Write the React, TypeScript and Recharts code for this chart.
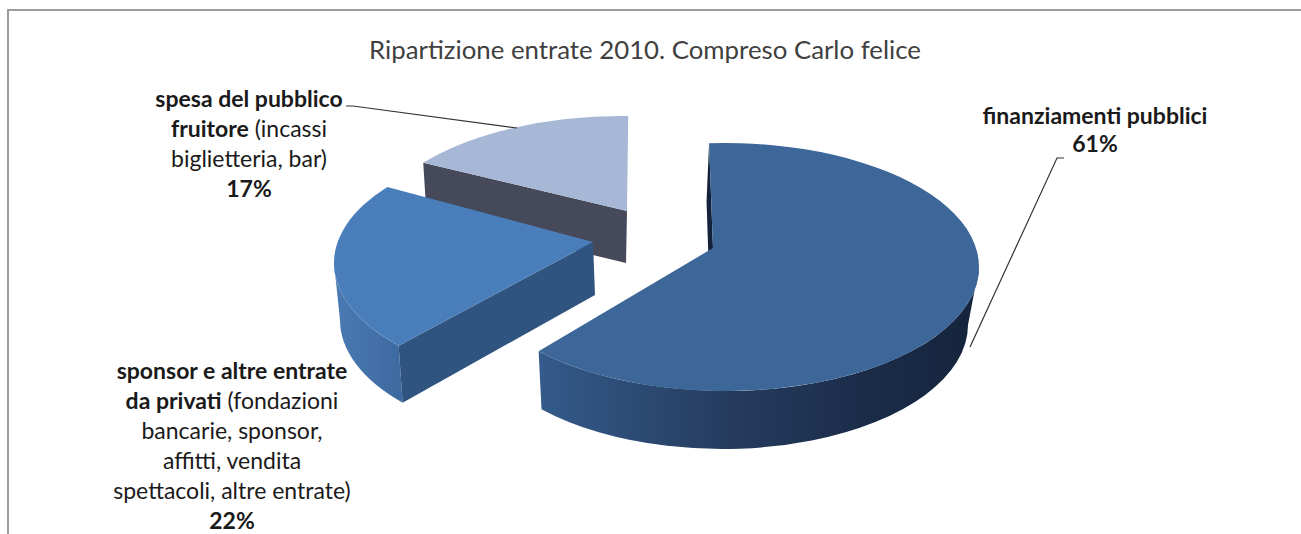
import { Pie, PieChart } from 'recharts';

const CATEGORIES = [
  'spesa del pubblico fruitore (incassi biglietteria, bar)',
  'sponsor e altre entrate da privati (fondazioni bancarie, sponsor, affitti, vendita spettacoli, altre entrate)',
  'finanziamenti pubblici',
];
const VALUES = [17, 22, 61];
const PERCENT_LABELS = ['17%', '22%', '61%'];
const TITLE = 'Ripartizione entrate 2010. Compreso Carlo felice';

const data = CATEGORIES.map((name, i) => ({ name, value: VALUES[i] }));

const WIDTH = 1301;
const HEIGHT = 534;
const PIE_CX = 650;
const PIE_CY = 250;
const RADIUS = 254;
const RADIUS_Y = 124;
const BOTTOM_RADIUS = 246;

// how each exploded slice sits in the fake perspective, same order as CATEGORIES
const VIEWS = [
  {
    move: [-28, -10], apex: [5, -29], adjust: [-1.4, -9.7], depth: 52, shift: -3, apexDrop: [-1, 52],
    top: '#a7b7d6', wall: '#45495a', edge: '#45495a',
  },
  {
    move: [-62, 13], apex: [5, -21], adjust: [-9, -8.6], depth: 57, shift: -2, apexDrop: [2, 53],
    top: '#4a7ebb', wall: 'url(#wallSponsor)', edge: '#2f5480',
  },
  {
    move: [75, 17], apex: [-12, -19], adjust: [-7.6, 3.6], depth: 58, shift: -3, apexDrop: [-3, 58],
    top: '#3e6799', wall: 'url(#wallMain)', edge: '#14233b',
  },
];

const LABEL_LINES = [
  { x: 249, y: 107, rows: [['spesa del pubblico', ''], ['fruitore', ' (incassi'], ['', 'biglietteria, bar)']] },
  {
    x: 232,
    y: 379,
    rows: [
      ['sponsor e altre entrate', ''],
      ['da privati', ' (fondazioni'],
      ['', 'bancarie, sponsor,'],
      ['', 'affitti, vendita'],
      ['', 'spettacoli, altre entrate)'],
    ],
  },
  { x: 1095, y: 124, rows: [['finanziamenti pubblici', '']] },
];
const LEADERS = ['346,106 353,106 517,128', '', '1064,158 1057,158 970,347'];

function SliceShape(props: any) {
  const i = CATEGORIES.indexOf(props.name);
  const view = VIEWS[i];
  const cx = props.cx + view.move[0];
  const cy = props.cy + view.move[1];
  const a1 = props.startAngle + view.adjust[0];
  const a2 = props.endAngle + view.adjust[1];
  const rx = props.outerRadius;
  const ry = (props.outerRadius * RADIUS_Y) / RADIUS;

  const rim = (deg: number) => {
    const r = (deg * Math.PI) / 180;
    return `${cx + rx * Math.cos(r)} ${cy - ry * Math.sin(r)}`;
  };
  const low = (deg: number) => {
    const r = (deg * Math.PI) / 180;
    return `${cx + view.shift + BOTTOM_RADIUS * Math.cos(r)} ${cy + view.depth - ry * Math.sin(r)}`;
  };
  const apexX = cx + view.apex[0];
  const apexY = cy + view.apex[1];
  const large = a2 - a1 > 180 ? 1 : 0;

  const wallFrom = Math.max(a1, 180);
  const wallTo = Math.min(a2, 360);

  return (
    <g>
      <defs>
        <linearGradient id="wallMain" x1="0" y1="0" x2="1" y2="0">
          <stop offset="0" stopColor="#345b8b" />
          <stop offset="0.38" stopColor="#273f63" />
          <stop offset="0.72" stopColor="#1b2d4a" />
          <stop offset="1" stopColor="#15243c" />
        </linearGradient>
        <linearGradient id="wallSponsor" x1="0" y1="0" x2="1" y2="0">
          <stop offset="0" stopColor="#4a7ab3" />
          <stop offset="1" stopColor="#3d699f" />
        </linearGradient>
      </defs>
      {wallTo > wallFrom && (
        <path
          d={`M${rim(wallFrom)} A${rx} ${ry} 0 0 0 ${rim(wallTo)} L${low(wallTo)} A${BOTTOM_RADIUS} ${ry} 0 0 1 ${low(wallFrom)} Z`}
          fill={view.wall}
        />
      )}
      <path
        d={`M${rim(a2)} L${apexX} ${apexY} L${apexX + view.apexDrop[0]} ${apexY + view.apexDrop[1]} L${low(a2)} Z`}
        fill={view.edge}
      />
      <path d={`M${apexX} ${apexY} L${rim(a1)} A${rx} ${ry} 0 ${large} 0 ${rim(a2)} Z`} fill={view.top} />
    </g>
  );
}

function SliceLabel(props: any) {
  const i = CATEGORIES.indexOf(props.name);
  const block = LABEL_LINES[i];
  const style = { fontFamily: 'Lato, sans-serif', fontSize: 23 };
  return (
    <g>
      {LEADERS[i] && <polyline points={LEADERS[i]} fill="none" stroke="#333" strokeWidth={1.2} />}
      <text x={block.x} y={block.y} textAnchor="middle" fill="#1a1a1a" style={style}>
        {block.rows.map((row, r) => (
          <tspan key={r} x={block.x} y={block.y + r * 30}>
            <tspan fontWeight={700}>{row[0]}</tspan>
            <tspan fontWeight={400}>{row[1]}</tspan>
          </tspan>
        ))}
        <tspan x={block.x} y={block.y + block.rows.length * (i === 2 ? 28 : 30)} fontWeight={700}>
          {PERCENT_LABELS[i]}
        </tspan>
      </text>
    </g>
  );
}

export default function App() {
  return (
    <div style={{ position: 'absolute', left: 0, top: 0, width: WIDTH, height: HEIGHT, background: '#fff', overflow: 'hidden' }}>
      <div
        style={{
          position: 'absolute',
          left: 7,
          top: 9,
          right: 0,
          bottom: 0,
          borderTop: '2px solid #9c9c9c',
          borderLeft: '2px solid #9c9c9c',
        }}
      />
      <PieChart
        width={WIDTH}
        height={HEIGHT}
        margin={{ top: 0, right: 0, bottom: 0, left: 0 }}
        style={{ position: 'absolute', left: 0, top: 0 }}
      >
        <text x={645} y={59} textAnchor="middle" fill="#404040" style={{ fontFamily: 'Lato, sans-serif', fontSize: 25.8 }}>
          {TITLE}
        </text>
        <Pie
          data={data}
          dataKey="value"
          nameKey="name"
          cx={PIE_CX}
          cy={PIE_CY}
          outerRadius={RADIUS}
          startAngle={90}
          endAngle={450}
          stroke="none"
          isAnimationActive={false}
          shape={SliceShape}
          label={SliceLabel}
          labelLine={false}
        />
      </PieChart>
    </div>
  );
}
